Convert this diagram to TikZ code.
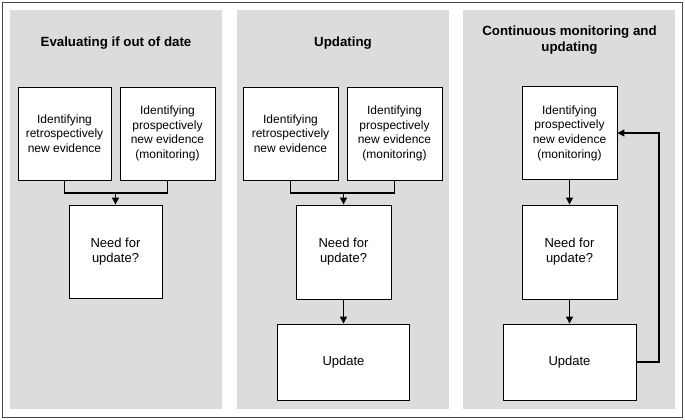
\documentclass[tikz,border=0pt]{standalone}
\usepackage{fontspec}
\setmainfont{Liberation Sans}
\usetikzlibrary{arrows.meta}
\definecolor{panelgray}{RGB}{220,220,220}
\definecolor{framegray}{RGB}{70,70,70}
\tikzset{
  panel/.style={fill=panelgray, draw=none},
  box/.style={draw=black, fill=white, line width=0.9pt, align=center,
    font=\fontsize{12}{14.6}\selectfont, inner sep=2pt},
  bigbox/.style={box, font=\fontsize{13}{15.2}\selectfont},
  ttl/.style={align=center, font=\fontsize{13.3}{16}\selectfont\bfseries},
  conn/.style={draw=black, line width=1.3pt},
  arr/.style={conn, -{Triangle[length=7pt,width=7pt]}}
}
\begin{document}
\begin{tikzpicture}[x=1pt,y=-1pt]
\useasboundingbox (0,0) rectangle (685,420);
\draw[framegray, line width=1pt] (2.5,2.5) rectangle (682,417);
\fill[panel] (10,10) rectangle (222,409);
\fill[panel] (237,10) rectangle (449,409);
\fill[panel] (463,10) rectangle (675,409);

% Panel 1
\node[ttl] (t1) at (116,43) {Evaluating if out of date};
\node[box, minimum width=93pt, minimum height=93pt] (r1) at (64.5,133.5) {Identifying\\retrospectively\\new evidence};
\node[box, minimum width=95pt, minimum height=93pt] (p1) at (167.5,133.5) {Identifying\\prospectively\\new evidence\\(monitoring)};
\node[bigbox, minimum width=93pt, minimum height=93pt] (n1) at (115.5,251.5) {Need for\\update?};
\coordinate (j1) at (115.5,193);
\draw[conn] (r1.south) |- (j1) -| (p1.south);
\draw[arr] (j1) -- (n1.north);

% Panel 2
\node[ttl] (t2) at (343,43) {Updating};
\node[box, minimum width=95pt, minimum height=93pt] (r2) at (290.5,133.5) {Identifying\\retrospectively\\new evidence};
\node[box, minimum width=95pt, minimum height=93pt] (p2) at (394.5,133.5) {Identifying\\prospectively\\new evidence\\(monitoring)};
\node[bigbox, minimum width=95pt, minimum height=94pt] (n2) at (343.5,252) {Need for\\update?};
\node[bigbox, minimum width=132pt, minimum height=76pt] (u2) at (343.5,362) {Update};
\coordinate (j2) at (343.5,193);
\draw[conn] (r2.south) |- (j2) -| (p2.south);
\draw[arr] (j2) -- (n2.north);
\draw[arr] (n2.south) -- (u2.north);

% Panel 3
\node[ttl] (t3) at (569.5,40) {Continuous monitoring and\\updating};
\node[box, minimum width=95pt, minimum height=93pt] (p3) at (569.5,133) {Identifying\\prospectively\\new evidence\\(monitoring)};
\node[bigbox, minimum width=95pt, minimum height=94pt] (n3) at (569.5,252) {Need for\\update?};
\node[bigbox, minimum width=133pt, minimum height=76pt] (u3) at (569.5,362) {Update};
\coordinate (fb) at (659,362);
\draw[arr] (p3.south) -- (n3.north);
\draw[arr] (n3.south) -- (u3.north);
\draw[arr] (u3.east) -- (fb) |- (p3.east);
\end{tikzpicture}
\end{document}
